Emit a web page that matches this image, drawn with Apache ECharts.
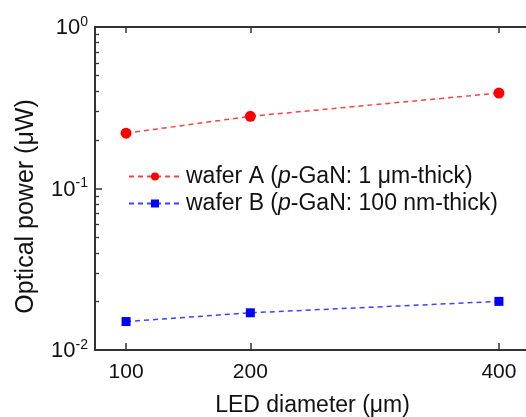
<!DOCTYPE html>
<html><head><meta charset="utf-8">
<script src="https://cdn.jsdelivr.net/npm/echarts@6/dist/echarts.min.js"></script>
<style>html,body{margin:0;padding:0;background:#fff}#c{width:526px;height:417px}</style>
</head><body><div id="c"></div>
<script>
const diameters = [100, 200, 400];
const waferA = [0.22, 0.28, 0.39];
const waferB = [0.015, 0.017, 0.020];
const xTicks = [100, 200, 400];
const yMajor = [0.01, 0.1, 1];
const yMinor = [0.02,0.03,0.04,0.05,0.06,0.07,0.08,0.09,0.2,0.3,0.4,0.5,0.6,0.7,0.8,0.9];
const nameA = 'wafer A ({i|p}-GaN: 1 μm-thick)';
const nameB = 'wafer B ({i|p}-GaN: 100 nm-thick)';

const FONT = 'Liberation Sans';
const axisColor = '#333';
const chart = echarts.init(document.getElementById('c'), null, {renderer: 'canvas'});
const pairs = arr => diameters.map((d, i) => [d, arr[i]]);

chart.setOption({
  animation: false,
  textStyle: {fontFamily: FONT},
  grid: {left: 95, top: 27, width: 435, height: 323, containLabel: false, outerBoundsMode: 'none'},
  legend: {
    orient: 'vertical', left: 123, top: 160, itemWidth: 52, itemHeight: 10, itemGap: 4,
    textStyle: {fontFamily: FONT, fontSize: 23, color: '#111',
      rich: {i: {fontStyle: 'italic', fontSize: 23, fontFamily: FONT, color: '#111'}}},
    data: [nameA, nameB]
  },
  xAxis: [{
    type: 'value', min: 75, max: 425, position: 'bottom',
    axisLine: {show: true, onZero: false, lineStyle: {color: axisColor, width: 1.8}},
    axisTick: {show: true, inside: true, length: 7, customValues: xTicks, lineStyle: {color: axisColor, width: 1.5}},
    axisLabel: {show: true, customValues: xTicks, fontSize: 21, color: '#111', margin: 12, fontFamily: FONT},
    splitLine: {show: false},
    name: 'LED diameter (μm)', nameLocation: 'middle', nameGap: 44,
    nameTextStyle: {fontSize: 23, color: '#111', fontFamily: FONT}
  }, {
    type: 'value', min: 75, max: 425, position: 'top',
    axisLine: {show: true, onZero: false, lineStyle: {color: axisColor, width: 1.8}},
    axisTick: {show: true, inside: true, length: 6, customValues: xTicks, lineStyle: {color: axisColor, width: 1.5}},
    axisLabel: {show: false}, splitLine: {show: false}
  }],
  yAxis: [{
    type: 'log', logBase: 10, min: 0.01, max: 1, position: 'left',
    axisLine: {show: true, onZero: false, lineStyle: {color: axisColor, width: 1.8}},
    axisTick: {show: true, inside: true, length: 7, lineStyle: {color: axisColor, width: 1.5}},
    axisLabel: {
      show: true, margin: 7, color: '#111',
      formatter: v => '{b|10}{s|' + Math.round(Math.log10(v)) + '}',
      rich: {
        b: {fontSize: 22, fontFamily: FONT, color: '#111', verticalAlign: 'bottom', lineHeight: 22},
        s: {fontSize: 14, fontFamily: FONT, color: '#111', verticalAlign: 'top', padding: [0, 0, 10, 0]}
      }
    },
    splitLine: {show: false},
    name: 'Optical power (μW)', nameLocation: 'middle', nameGap: 56, nameRotate: 90,
    nameTextStyle: {fontSize: 25, color: '#111', fontFamily: FONT, padding: [0, 36, 0, 0]}
  }, {
    // minor ticks of the log axis, placed in log10 space
    type: 'value', min: -2, max: 0, position: 'left', offset: 0,
    axisLine: {show: true, onZero: false, lineStyle: {color: axisColor, width: 1.8}},
    axisTick: {show: true, inside: true, length: 4, customValues: yMinor.map(v => Math.log10(v)), lineStyle: {color: axisColor, width: 1.3}},
    axisLabel: {show: false}, splitLine: {show: false}
  }],
  series: [{
    name: nameA, type: 'line', data: pairs(waferA), xAxisIndex: 0, yAxisIndex: 0,
    symbol: 'circle', symbolSize: 11,
    itemStyle: {color: '#ff0000'},
    lineStyle: {color: '#ff4040', width: 1.5, type: [5, 4]}
  }, {
    name: nameB, type: 'line', data: pairs(waferB), xAxisIndex: 0, yAxisIndex: 0,
    symbol: 'rect', symbolSize: 9,
    itemStyle: {color: '#0000ff'},
    lineStyle: {color: '#4040ff', width: 1.5, type: [5, 4]}
  }]
});
</script></body></html>
